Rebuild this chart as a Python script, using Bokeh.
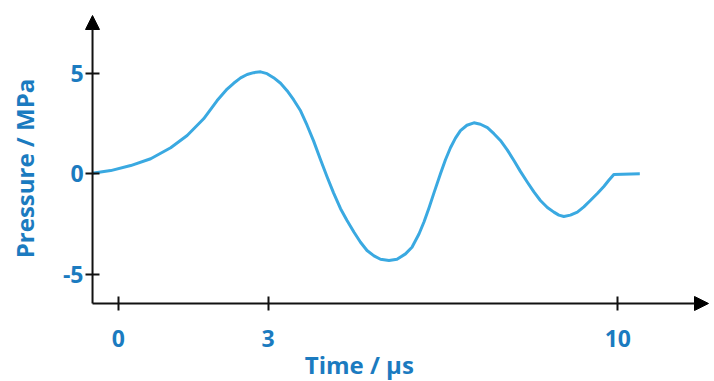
from bokeh.plotting import figure
from bokeh.models import Range1d, FixedTicker, Arrow, NormalHead, Label, ColumnDataSource
from bokeh.embed import file_html
from bokeh.resources import INLINE

# --- data ---
time_us = [-0.52, -0.15, 0.25, 0.65, 1.05, 1.38, 1.71, 1.98, 2.18, 2.31, 2.45,
           2.58, 2.71, 2.85, 2.98, 3.11, 3.25, 3.38, 3.51, 3.65, 3.78, 3.91,
           4.05, 4.18, 4.31, 4.45, 4.58, 4.72, 4.85, 4.98, 5.12, 5.25, 5.42,
           5.58, 5.75, 5.88, 6.02, 6.12, 6.22, 6.32, 6.45, 6.55, 6.65, 6.75,
           6.85, 6.98, 7.12, 7.25, 7.39, 7.52, 7.65, 7.79, 7.92, 8.05, 8.19,
           8.32, 8.45, 8.59, 8.72, 8.82, 8.92, 9.05, 9.19, 9.32, 9.45, 9.59,
           9.72, 9.82, 9.92, 10.44]
pressure_mpa = [0.03, 0.16, 0.41, 0.75, 1.30, 1.91, 2.74, 3.65, 4.22, 4.51, 4.78,
                4.95, 5.04, 5.08, 4.99, 4.79, 4.51, 4.14, 3.69, 3.14, 2.42, 1.64,
                0.70, -0.15, -0.95, -1.74, -2.33, -2.91, -3.41, -3.82, -4.09, -4.26, -4.32,
                -4.26, -3.99, -3.66, -3.00, -2.40, -1.70, -0.95, 0.00, 0.70, 1.30, 1.78,
                2.15, 2.42, 2.54, 2.47, 2.30, 2.00, 1.66, 1.18, 0.66, 0.12, -0.42,
                -0.90, -1.33, -1.68, -1.91, -2.06, -2.13, -2.06, -1.91, -1.65, -1.33, -0.98,
                -0.63, -0.32, -0.03, 0.0]
x_ticks = [0, 3, 10]
y_ticks = [-5, 0, 5]
x_title = "Time / µs"
y_title = "Pressure / MPa"

LINE_COLOR = "#3aa9e1"
TEXT_COLOR = "#1b7bc0"
AXIS_COLOR = "#111111"
FONT = "Open Sans"

# visible data window (whole canvas is the plot frame)
X0, X1 = -2.356, 11.935
Y0, Y1 = -10.349, 8.635
# where the two axes cross, and where their arrows end
AX_X, AX_Y = -0.514, -6.462
X_TIP, Y_TIP = 11.815, 7.887

p = figure(width=714, height=381, output_backend="svg", toolbar_location=None,
           x_range=Range1d(X0, X1), y_range=Range1d(Y0, Y1),
           min_border_left=0, min_border_right=0, min_border_top=0,
           min_border_bottom=0)
p.outline_line_color = None
p.grid.visible = False
p.background_fill_color = "white"
p.border_fill_color = "white"

src = ColumnDataSource(data=dict(t=time_us, p=pressure_mpa))
p.line("t", "p", source=src, line_color=LINE_COLOR, line_width=3, line_join="round")

for ax in (p.xaxis[0], p.yaxis[0]):
    ax.axis_line_color = None
    ax.major_tick_line_color = AXIS_COLOR
    ax.major_tick_line_width = 2
    ax.major_tick_in = 7
    ax.major_tick_out = 7
    ax.minor_tick_line_color = None
    ax.major_label_text_font = FONT
    ax.major_label_text_font_style = "bold"
    ax.major_label_text_font_size = "23px"
    ax.major_label_text_color = TEXT_COLOR

p.xaxis[0].fixed_location = AX_Y
p.yaxis[0].fixed_location = AX_X
p.xaxis[0].ticker = FixedTicker(ticks=x_ticks)
p.yaxis[0].ticker = FixedTicker(ticks=y_ticks)
p.xaxis[0].major_label_overrides = {t: str(t) for t in x_ticks}
p.yaxis[0].major_label_overrides = {t: str(t) for t in y_ticks}
p.xaxis[0].major_label_standoff = 20
p.yaxis[0].major_label_standoff = 2

# axis lines with arrow heads
p.add_layout(Arrow(x_start=AX_X, y_start=AX_Y, x_end=AX_X, y_end=Y_TIP, line_color=AXIS_COLOR,
                   line_width=2,
                   end=NormalHead(size=14, fill_color="black", line_color="black", line_width=1)))
p.add_layout(Arrow(x_start=AX_X, y_start=AX_Y, x_end=X_TIP, y_end=AX_Y, line_color=AXIS_COLOR,
                   line_width=2,
                   end=NormalHead(size=14, fill_color="black", line_color="black", line_width=1)))

# axis titles
p.add_layout(Label(x=4.826, y=-9.48, text=x_title, text_align="center",
                   text_baseline="alphabetic", text_font=FONT, text_font_style="bold",
                   text_font_size="24px", text_color=TEXT_COLOR))
p.add_layout(Label(x=-1.885, y=0.264, text=y_title, angle=1.5708, text_align="center",
                   text_baseline="alphabetic", text_font=FONT, text_font_style="bold",
                   text_font_size="24px", text_color=TEXT_COLOR))

open("out.html", "w").write(file_html(p, INLINE))
